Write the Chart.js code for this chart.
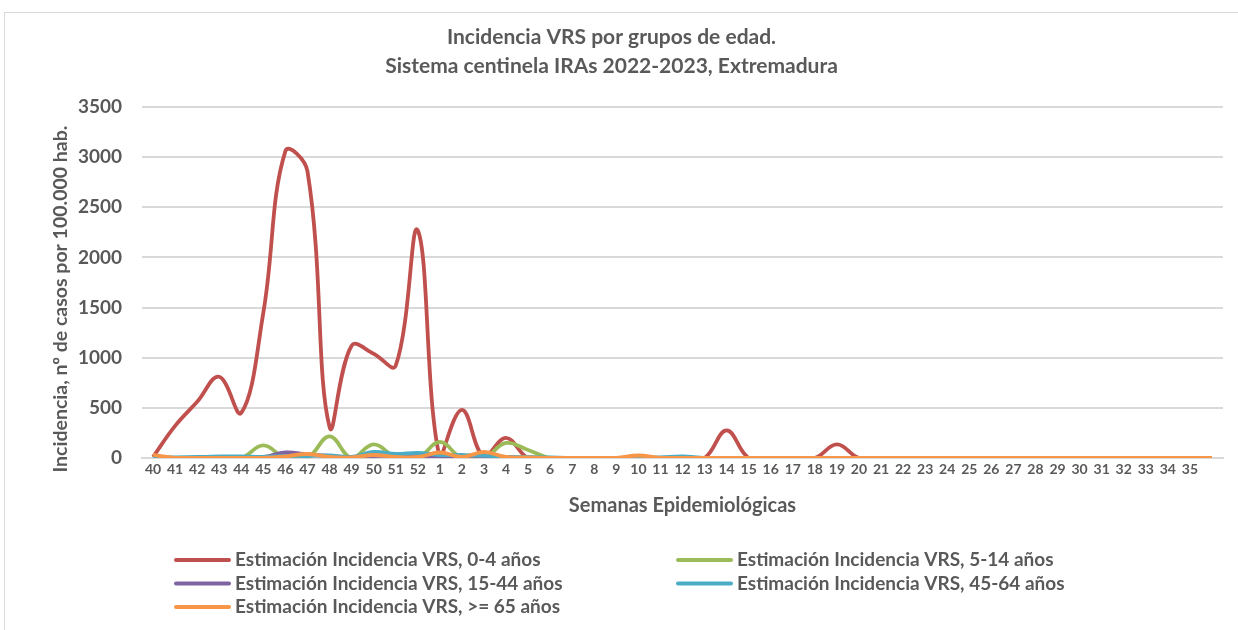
<!DOCTYPE html>
<html lang="es">
  <head>
    <meta charset="utf-8" />
    <title>Incidencia VRS por grupos de edad</title>
    <style>
      * {
        margin: 0;
        padding: 0;
      }
      body {
        background: #fff;
        width: 1238px;
        height: 630px;
        overflow: hidden;
        position: relative;
      }
      .frame {
        position: absolute;
        left: 4px;
        top: 12px;
        width: 1300px;
        height: 700px;
        border: 1px solid #d9d9d9;
      }
      #myChart {
        position: absolute;
        left: 0;
        top: 0;
      }
    </style>
  </head>
  <body>
    <div class="frame"></div>
    <canvas id="myChart" width="1238" height="630"></canvas>

    <script src="https://cdn.jsdelivr.net/npm/chart.js"></script>
    <script>
      // semanas epidemiológicas (40-52 de 2022, 1-36 de 2023; la última sin rótulo)
      const semanas = [
        "40", "41", "42", "43", "44", "45", "46", "47", "48", "49", "50", "51", "52",
        "1", "2", "3", "4", "5", "6", "7", "8", "9", "10", "11", "12", "13", "14",
        "15", "16", "17", "18", "19", "20", "21", "22", "23", "24", "25", "26",
        "27", "28", "29", "30", "31", "32", "33", "34", "35", "",
      ];

      const edad0a4 = [
        10, 320, 560, 810, 450, 1450, 3060, 2860, 310, 1120, 1040, 920, 2270,
        0, 480, 10, 200, 0, 0, 0, 0, 0, 0, 0, 0, 0, 275,
        0, 0, 0, 0, 135, 0, 0, 0, 0, 0, 0, 0,
        0, 0, 0, 0, 0, 0, 0, 0, 0, 0,
      ];
      const edad5a14 = [
        0, 0, 0, 0, 0, 125, 0, 0, 215, 0, 135, 10, 0,
        160, 0, 0, 150, 80, 0, 0, 0, 0, 0, 0, 0, 0, 0,
        0, 0, 0, 0, 0, 0, 0, 0, 0, 0, 0, 0,
        0, 0, 0, 0, 0, 0, 0, 0, 0, 0,
      ];
      const edad15a44 = [
        10, 0, 0, 0, 0, 10, 55, 35, 20, 10, 20, 20, 20,
        0, 20, 20, 10, 0, 0, 0, 0, 0, 0, 0, 0, 0, 0,
        0, 0, 0, 0, 0, 0, 0, 0, 0, 0, 0, 0,
        0, 0, 0, 0, 0, 0, 0, 0, 0, 0,
      ];
      const edad45a64 = [
        0, 5, 10, 15, 15, 10, 20, 20, 25, 10, 60, 40, 50,
        30, 30, 25, 10, 10, 5, 0, 0, 0, 0, 5, 15, 0, 0,
        0, 0, 0, 0, 0, 0, 0, 0, 0, 0, 0, 0,
        0, 0, 0, 0, 0, 0, 0, 0, 0, 0,
      ];
      const edad65 = [
        30, 0, 0, 0, 0, 0, 15, 40, 10, 5, 30, 10, 10,
        55, 10, 60, 10, 5, 0, 0, 0, 0, 25, 0, 0, 0, 0,
        0, 0, 0, 0, 0, 0, 0, 0, 0, 0, 0, 0,
        0, 0, 0, 0, 0, 0, 0, 0, 0, 0,
      ];

      const yTicks = [0, 500, 1000, 1500, 2000, 2500, 3000, 3500];

      const textColor = "#595959";
      const fontFamily = "Lato, 'Noto Sans', sans-serif";

      // order: the last series (>= 65) is painted on top, as in the spreadsheet
      const serie = (label, values, color, order) => ({
        label: label,
        data: values,
        borderColor: color,
        backgroundColor: color,
        borderWidth: 3.8,
        pointRadius: 0,
        tension: 0.4,
        fill: false,
        order: order,
      });

      const data = {
        labels: semanas,
        datasets: [
          serie("Estimación Incidencia VRS, 0-4 años", edad0a4, "#c0504d", 5),
          serie("Estimación Incidencia VRS, 5-14 años", edad5a14, "#9bbb59", 4),
          serie("Estimación Incidencia VRS, 15-44 años", edad15a44, "#8064a2", 3),
          serie("Estimación Incidencia VRS, 45-64 años", edad45a64, "#4bacc6", 2),
          serie("Estimación Incidencia VRS, >= 65 años", edad65, "#f79646", 1),
        ],
      };

      // legend in two columns, like the spreadsheet one
      const gridLegend = {
        id: "gridLegend",
        afterDraw(chart, args, opts) {
          const { ctx } = chart;
          ctx.save();
          ctx.font = opts.font;
          ctx.fillStyle = textColor;
          ctx.textBaseline = "middle";
          ctx.textAlign = "left";
          chart.data.datasets.forEach((ds, i) => {
            const col = i % 2;
            const row = Math.floor(i / 2);
            const x = opts.columns[col];
            const y = opts.top + row * opts.rowHeight;
            ctx.strokeStyle = ds.borderColor;
            ctx.lineWidth = 4;
            ctx.lineCap = "round";
            ctx.beginPath();
            ctx.moveTo(x, y);
            ctx.lineTo(x + opts.lineLength, y);
            ctx.stroke();
            ctx.fillText(ds.label, x + opts.lineLength + opts.gap, y);
          });
          ctx.restore();
        },
      };

      const config = {
        type: "line",
        data: data,
        options: {
          responsive: false,
          animation: false,
          layout: {
            padding: { top: 0, left: 0, right: 15, bottom: 112 },
          },
          plugins: {
            legend: { display: false },
            tooltip: { enabled: false },
            title: {
              display: true,
              text: [
                "Incidencia VRS por grupos de edad.",
                "Sistema centinela IRAs 2022-2023, Extremadura",
              ],
              color: textColor,
              font: { family: fontFamily, size: 21, weight: "bold", lineHeight: 1.38 },
              padding: { top: 23, bottom: 26 },
            },
            gridLegend: {
              font: "bold 19px " + fontFamily,
              columns: [176, 678],
              top: 560,
              rowHeight: 23.5,
              lineLength: 53,
              gap: 6,
            },
          },
          scales: {
            x: {
              offset: true,
              grid: { display: false, drawTicks: false },
              border: { display: true, color: "#d9d9d9", width: 2 },
              ticks: {
                color: textColor,
                font: { family: fontFamily, size: 14, weight: "bold" },
                maxRotation: 0,
                autoSkip: false,
                padding: 3,
              },
              title: {
                display: true,
                text: "Semanas Epidemiológicas",
                color: textColor,
                font: { family: fontFamily, size: 20, weight: "bold" },
                padding: { top: 0, bottom: 0 },
              },
              afterFit: (scale) => {
                scale.height = 60;
              },
            },
            y: {
              min: 0,
              max: 3500,
              afterBuildTicks: (scale) => {
                scale.ticks = yTicks.map((v) => ({ value: v }));
              },
              grid: { color: "#d9d9d9", lineWidth: 2, drawTicks: false },
              border: { display: false },
              ticks: {
                color: textColor,
                font: { family: fontFamily, size: 19, weight: "bold" },
                padding: 20,
                callback: (value) => String(value),
              },
              title: {
                display: true,
                // trailing no-break spaces nudge the rotated title a bit lower, as in the original
                text: "Incidencia, nº de casos por 100.000 hab.\u00a0\u00a0\u00a0\u00a0\u00a0\u00a0\u00a0",
                color: textColor,
                font: { family: fontFamily, size: 19.5, weight: "bold" },
                padding: { top: 49, bottom: 0 },
              },
              afterFit: (scale) => {
                scale.width = 142;
              },
            },
          },
        },
        plugins: [gridLegend],
      };

      const myChart = new Chart(document.getElementById("myChart"), config);
    </script>
  </body>
</html>
